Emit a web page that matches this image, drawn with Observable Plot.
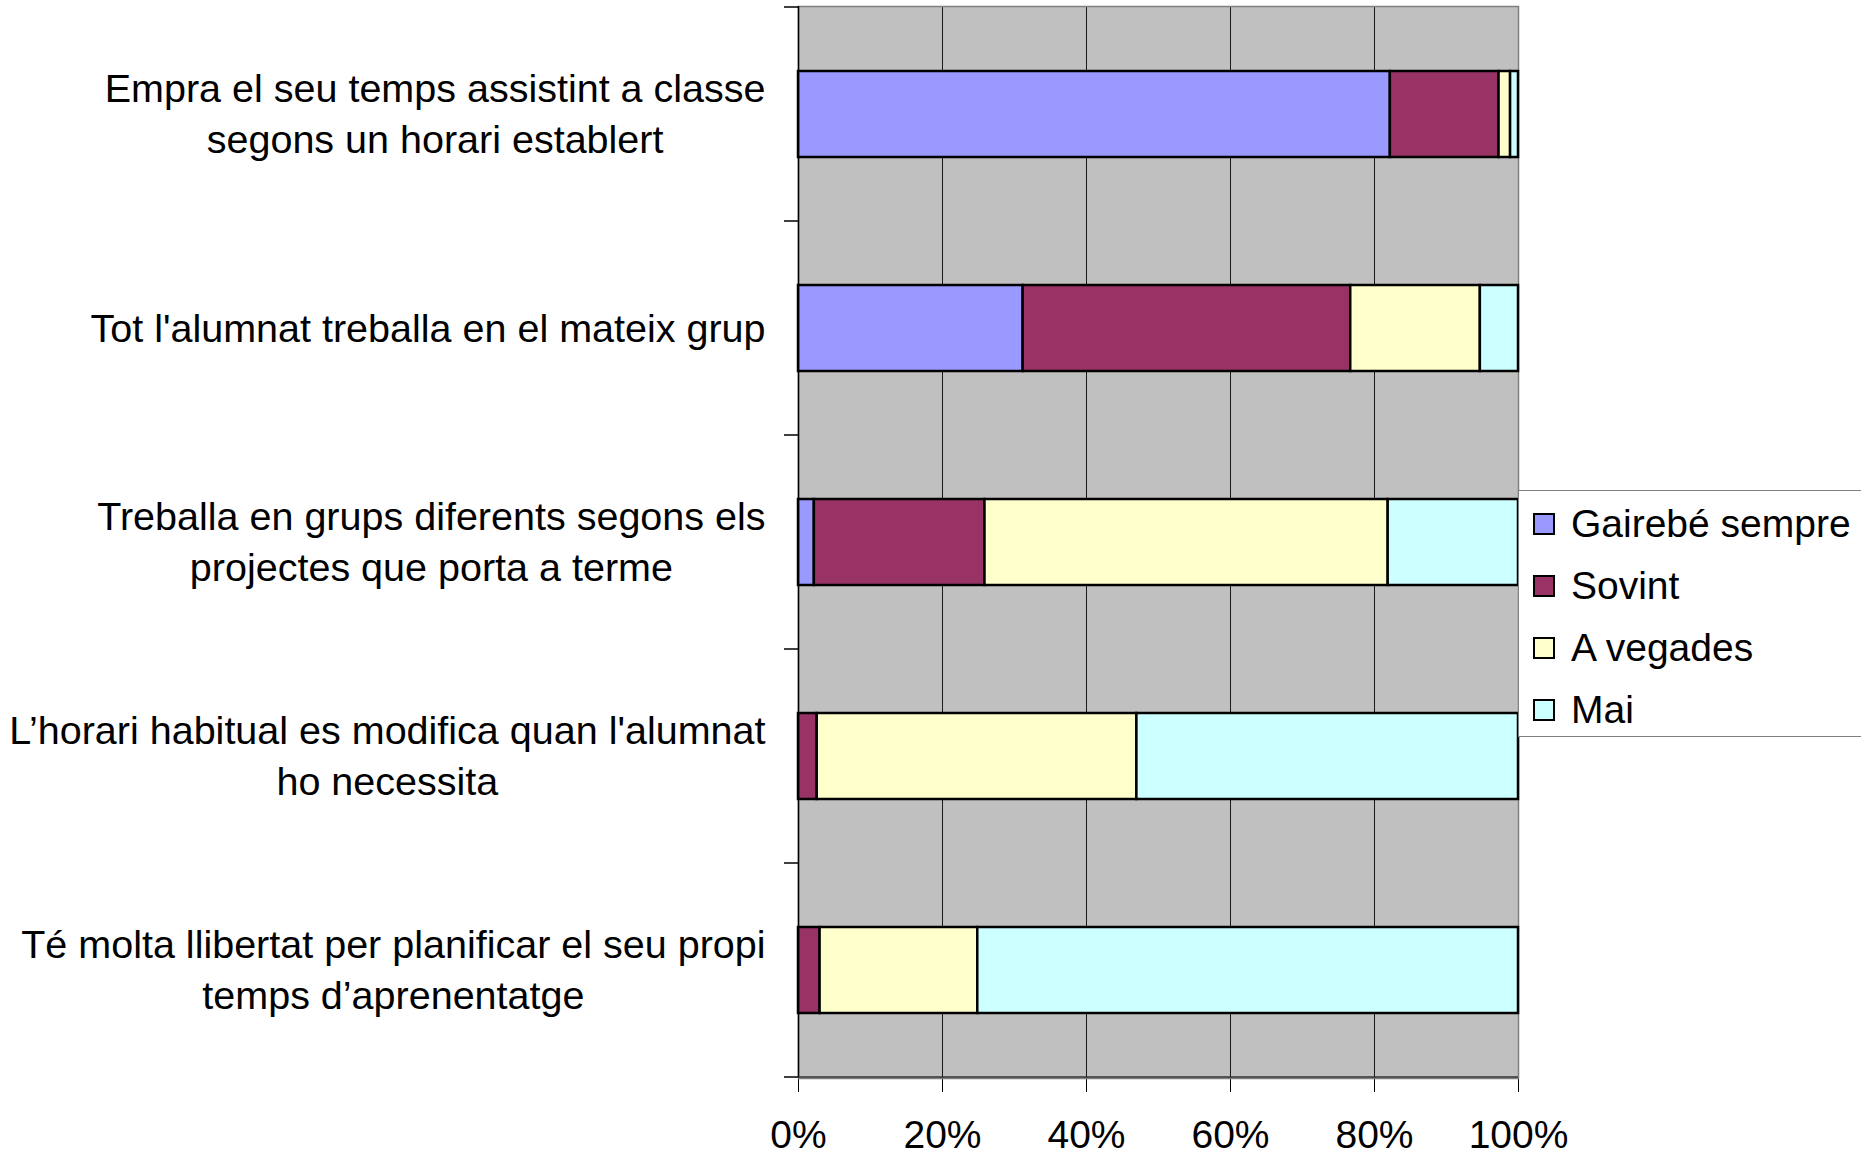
<!DOCTYPE html>
<html><head><meta charset="utf-8">
<script src="https://cdn.jsdelivr.net/npm/d3@7"></script>
<script src="https://cdn.jsdelivr.net/npm/@observablehq/plot@0.6"></script>
<style>
html,body{margin:0;padding:0;background:#fff;overflow:hidden}
#wrap{position:relative;width:1861px;height:1156px;font-family:"Liberation Sans",Arial,sans-serif}
#legend{position:absolute;left:1518px;top:490px;width:360px;height:247px;border-top:1px solid #808080;border-bottom:1px solid #808080;border-left:1px solid #808080;background:#fff;box-sizing:border-box}
.item{position:absolute;left:14px;height:40px;display:flex;align-items:center;font-size:39px;color:#000;white-space:nowrap}
.sw{width:18px;height:18px;border:2px solid #000;margin-right:16px;flex:none}
</style></head><body><div id="wrap"></div>
<script>
const categories = [
  "Empra el seu temps assistint a classe segons un horari establert",
  "Tot l'alumnat treballa en el mateix grup",
  "Treballa en grups diferents segons els projectes que porta a terme",
  "L’horari habitual es modifica quan l'alumnat ho necessita",
  "Té molta llibertat per planificar el seu propi temps d’aprenentatge"
];
const labelLines = [
  ["Empra el seu temps assistint a classe", "segons un horari establert"],
  ["Tot l'alumnat treballa en el mateix grup"],
  ["Treballa en grups diferents segons els", "projectes que porta a terme"],
  ["L’horari habitual es modifica quan l'alumnat", "ho necessita"],
  ["Té molta llibertat per planificar el seu propi", "temps d’aprenentatge"]
];
const series = ["Gairebé sempre", "Sovint", "A vegades", "Mai"];
const colors = ["#9999FF", "#993366", "#FFFFCC", "#CCFFFF"];
const gairebeSempre = [82.2, 31.2, 2.2, 0, 0];
const sovint = [15.1, 45.5, 23.7, 2.6, 3.0];
const aVegades = [1.6, 18.0, 56.0, 44.4, 21.9];
const mai = [1.1, 5.3, 18.1, 53.0, 75.1];
const xTicks = [0, 20, 40, 60, 80, 100];

const seriesValues = [gairebeSempre, sovint, aVegades, mai];
const rows = [];
categories.forEach((c, i) => series.forEach((s, j) => rows.push({cat: c, series: s, value: seriesValues[j][i]})));

const W = 1861, H = 1156;
const mLeft = 798, mRight = 343, mTop = 6, mBottom = 78;
const FS = 39;
const LFS = 39.5;

const ctx = document.createElement("canvas").getContext("2d");
ctx.font = `${LFS}px "Liberation Sans", Arial, sans-serif`;

const labelMarks = categories.map((c, i) => {
  const maxW = d3.max(labelLines[i], l => ctx.measureText(l).width);
  return Plot.text([c], {
    y: d => d,
    text: () => labelLines[i].join("\n"),
    frameAnchor: "left",
    textAnchor: "middle",
    dx: -(33 + maxW / 2),
    dy: -3,
    fontSize: LFS,
    lineHeight: 1.29,
    fill: "#000"
  });
});

const chart = Plot.plot({
  width: W, height: H,
  marginLeft: mLeft, marginRight: mRight, marginTop: mTop, marginBottom: mBottom,
  style: {fontFamily: '"Liberation Sans", Arial, sans-serif', fontSize: FS + "px", background: "transparent", color: "#000"},
  x: {domain: [0, 100], ticks: xTicks, tickSize: 14, tickPadding: 28, tickFormat: d => d + "%", label: null},
  y: {domain: categories, paddingInner: 0.6, paddingOuter: 0.3, axis: null},
  color: {domain: series, range: colors},
  marks: [
    Plot.frame({fill: "#C0C0C0", stroke: null}),
    Plot.ruleX(xTicks, {stroke: "#1a1a1a", strokeWidth: 1}),
    Plot.frame({stroke: "#808080", strokeWidth: 1.5}),
    Plot.barX(rows, {y: "cat", x: "value", fill: "series", stroke: "#000", strokeWidth: 2.5}),
    Plot.ruleX([0], {stroke: "#000", strokeWidth: 1.5}),
    ...labelMarks
  ]
});

document.getElementById("wrap").appendChild(chart);

// y-axis boundary ticks and bottom axis line, positioned from Plot's own scales
const ys = chart.scale("y");
const xs = chart.scale("x");
const step = ys.step ?? ys.bandwidth / 0.4;
const off = (step - ys.bandwidth) / 2;
const bounds = categories.map(c => ys.apply(c) - off);
bounds.push(ys.apply(categories[categories.length - 1]) + ys.bandwidth + off);
const x0 = xs.apply(0), x1 = xs.apply(100);
const svg = d3.select(chart);
const g = svg.append("g").attr("stroke", "#000").attr("stroke-width", 1.5);
g.selectAll("line.yt").data(bounds).join("line")
  .attr("x1", x0 - 14).attr("x2", x0).attr("y1", d => d).attr("y2", d => d);
g.append("line").attr("x1", x0).attr("x2", x1)
  .attr("y1", bounds[bounds.length - 1]).attr("y2", bounds[bounds.length - 1]).attr("stroke", "#333");

// legend
const legend = document.createElement("div");
legend.id = "legend";
series.forEach((s, i) => {
  const it = document.createElement("div");
  it.className = "item";
  it.style.top = (13 + i * 62) + "px";
  const sw = document.createElement("span");
  sw.className = "sw";
  sw.style.background = colors[i];
  const tx = document.createElement("span");
  tx.textContent = s;
  it.appendChild(sw); it.appendChild(tx);
  legend.appendChild(it);
});
document.getElementById("wrap").appendChild(legend);
</script></body></html>
